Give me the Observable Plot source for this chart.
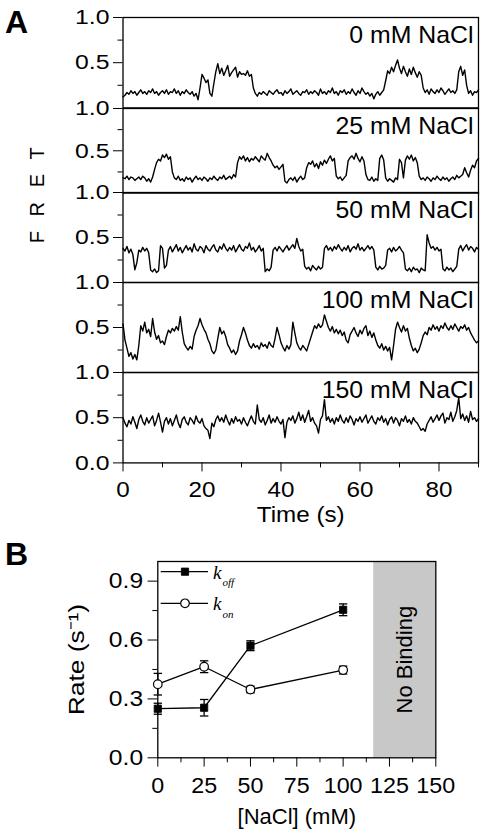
<!DOCTYPE html>
<html>
<head>
<meta charset="utf-8">
<script src="https://cdn.jsdelivr.net/npm/d3@7"></script>
<script src="https://cdn.jsdelivr.net/npm/@observablehq/plot@0.6"></script>
<style>
html, body { margin: 0; padding: 0; background: #fff; }
#fig { position: relative; width: 485px; height: 834px; overflow: hidden; font-family: "Liberation Sans", Arial, sans-serif; }
#fig svg { position: absolute; left: 0; }
</style>
</head>
<body>
<div id="fig"></div>
<script>
// ---------- Panel A data: smFRET traces (FRET x100), sampled every 0.5 s ----------
const timeStep = 0.5;
const timeDomain = [0, 90];
const conditions = ["0 mM NaCl", "25 mM NaCl", "50 mM NaCl", "100 mM NaCl", "150 mM NaCl"];

const fret0 = [
  12,14,17,15,19,16,18,14,17,20,16,18,15,19,17,21,16,18,14,17,19,16,20,15,18,17,21,16,19,14,18,16,20,17,15,18,13,16,
  9,22,37,33,28,31,16,13,27,40,
  49,38,44,36,41,47,35,39,42,45,34,40,37,38,36,41,35,37,
  22,16,13,17,15,18,16,14,19,17,15,18,20,16,17,14,19,16,18,21,15,17,19,16,14,18,17,20,15,18,
  16,19,17,14,21,16,18,15,19,17,22,16,18,14,19,17,20,15,18,16,21,17,14,19,16,22,18,15,17,13,
  16,10,15,18,14,17,20,
  30,41,38,45,40,47,53,44,38,46,40,35,43,37,45,39,34,40,36,
  22,17,20,15,21,18,16,20,17,22,19,15,18,21,17,19,16,20,
  40,46,36,42,25,
  16,19,14,18,17,20
];
const fret25 = [
  18,17,20,16,19,18,15,17,19,16,20,18,14,17,13,19,
  28,36,40,38,45,42,46,40,43,
  25,18,16,20,15,17,14,19,16,18,13,17,20,16,18,15,19,17,14,18,16,20,17,15,19,17,21,16,18,20,17,22,19,
  36,43,40,44,38,42,37,41,39,43,40,37,44,41,39,47,42,38,33,30,32,28,31,34,
  14,12,16,18,15,19,13,17,20,16,18,
  30,36,34,38,31,35,29,37,33,39,35,40,44,38,41,
  20,17,19,15,18,21,
  38,42,44,40,47,41,37,43,38,
  22,16,15,19,14,17,15,
  41,45,39,
  18,14,17,15,13,18,16,
  40,36,
  18,
  39,44,40,45,38,42,36,
  20,16,18,15,19,17,14,18,16,20,17,15,19,16,18,14,17,19,16,21,18,20,
  22,30,24,19,27,33,30,38,41
];
const fret50 = [
  38,35,40,33,37,31,
  14,22,
  36,34,39,35,38,33,
  14,12,15,11,13,
  41,38,
  16,19,
  36,40,34,38,42,35,39,33,37,41,36,39,34,43,37,35,40,38,33,41,37,35,39,42,36,34,40,37,43,38,
  35,39,36,41,34,38,42,37,35,40,38,44,36,39,34,37,41,35,38,
  12,15,13,17,
  36,39,35,40,37,34,38,41,36,39,42,38,49,40,35,37,
  18,15,17,13,19,16,14,18,15,17,
  38,41,36,39,35,40,37,42,38,35,39,36,41,34,38,40,37,43,36,39,35,38,41,37,40,36,
  17,14,18,15,16,19,
  36,38,34,39,35,37,40,36,33,
  15,13,16,12,17,14,15,11,16,14,13,
  53,44,38,40,36,39,35,37,
  15,13,17,14,16,12,15,18,
  37,41,35,39,42,36,40,38,34,39,37
];
const fret100 = [
  54,36,27,18,22,15,20,14,30,52,
  46,56,44,48,40,60,45,37,41,33,
  35,31,40,47,44,49,46,51,47,62,
  45,32,28,25,29,26,40,47,52,60,
  53,48,44,37,32,24,21,25,38,50,
  43,46,40,31,27,22,25,20,24,35,
  42,50,44,36,30,27,32,28,30,26,
  33,29,31,27,34,30,28,38,50,42,
  33,28,24,30,26,31,56,44,33,28,
  25,30,27,24,31,38,45,52,49,54,
  50,53,64,57,50,46,51,44,48,43,
  47,41,45,36,33,42,46,50,44,40,
  47,43,49,52,41,46,39,44,36,30,
  27,32,25,29,24,28,14,30,48,56,
  50,45,52,46,49,38,30,24,27,22,
  26,33,41,45,42,50,47,53,48,51,
  46,52,49,55,50,47,52,48,54,50,
  46,51,49,53,47,50,44,40,36,33,
  35
];
const fret150 = [
  50,44,40,47,43,51,45,38,48,53,
  46,42,50,44,48,52,41,47,55,45,
  34,46,50,43,49,41,47,53,44,39,
  48,51,45,42,50,47,43,52,46,44,
  49,41,38,36,27,44,40,48,52,46,
  50,45,53,47,42,49,44,51,46,48,
  43,50,45,41,47,52,46,43,64,48,
  45,50,42,47,53,44,49,45,51,46,
  43,48,28,45,50,47,52,44,49,56,
  47,53,45,51,58,46,50,44,41,33,
  48,52,70,47,51,45,49,43,50,46,
  53,47,44,50,45,52,48,42,49,46,
  51,45,49,53,44,48,52,46,43,50,
  47,52,45,49,42,48,51,44,50,47,
  41,49,46,52,45,48,43,50,46,44,
  40,36,38,35,43,47,51,45,49,53,
  47,52,55,44,50,48,56,46,51,58,
  72,49,54,47,52,45,57,48,50,46,
  49
];
const traces = [fret0, fret25, fret50, fret100, fret150];
const timeTicks = [0, 20, 40, 60, 80];
const timeMinorTicks = [10, 30, 50, 70, 90];
const fretTicks = [0.5, 1.0];
const fretMinorTicks = [0.25, 0.75];

// ---------- Panel B data: rates vs [NaCl] ----------
const nacl = [0, 25, 50, 100];
const kOff = [0.25, 0.255, 0.571, 0.754];
const kOffErr = [0.028, 0.042, 0.025, 0.03];
const kOn = [0.375, 0.464, 0.348, 0.447];
const kOnErr = [0.055, 0.03, 0.017, 0.02];
const naclTicks = [0, 25, 50, 75, 100, 125, 150];
const naclMinorTicks = [12.5, 37.5, 62.5, 87.5, 112.5, 137.5];
const rateTicks = [0, 0.3, 0.6, 0.9];
const rateMinorTicks = [0.15, 0.45, 0.75];
const noBindingRange = [116.5, 150];
const seriesLegend = [
  {name: "k", sub: "off", symbol: "square", fill: "black"},
  {name: "k", sub: "on", symbol: "circle", fill: "white"}
];

// ---------- layout ----------
const FONT = '"Liberation Sans", Arial, sans-serif';
const fig = document.getElementById("fig");
const panelEdges = [17.3, 107.7, 192.3, 282.3, 372.3, 462.7];
const frameLeft = 122.5, frameRight = 478;

function stretchText(svg, selector, k) {
  svg.querySelectorAll(selector).forEach(t => {
    const tr = t.getAttribute("transform");
    if (tr) t.setAttribute("transform", tr + ` scale(${k},1)`);
  });
}

traces.forEach((trace, i) => {
  const isLast = i === traces.length - 1;
  const top = panelEdges[i], bottom = panelEdges[i + 1];
  const mt = 12, mb = isLast ? 72 : 12;
  const h = bottom - top;
  const rows = trace.map((v, j) => ({t: j * timeStep, fret: v / 100}));
  const marks = [
    Plot.lineY(rows, {x: "t", y: "fret", stroke: "black", strokeWidth: 1.4}),
    Plot.frame({stroke: "black", strokeWidth: 1.3}),
    Plot.axisY({ticks: isLast ? [0, ...fretTicks] : fretTicks, tickSize: 9.5, tickPadding: 4,
      tickFormat: d3.format(".1f"), fontSize: 21, label: null}),
    Plot.axisY({ticks: fretMinorTicks, tickSize: 5, tickFormat: () => "", label: null}),
    Plot.text([conditions[i]], {text: d => d, frameAnchor: "top-right", textAnchor: "end",
      lineAnchor: "top", dx: -5, dy: 9.5, fontSize: 23, fill: "black"})
  ];
  if (isLast) {
    marks.push(
      Plot.axisX({ticks: timeTicks, tickSize: 9, tickPadding: 9, fontSize: 22,
        label: "Time (s)", labelAnchor: "center", labelOffset: 59, labelArrow: "none"}),
      Plot.axisX({ticks: timeMinorTicks, tickSize: 5, tickFormat: () => "", label: null})
    );
  }
  const p = Plot.plot({
    width: 485, height: h + mt + mb,
    marginLeft: frameLeft, marginRight: 485 - frameRight, marginTop: mt, marginBottom: mb,
    style: {background: "transparent", overflow: "visible", fontFamily: FONT, color: "black"},
    x: isLast ? {domain: timeDomain} : {domain: timeDomain, axis: null},
    y: {domain: [0, 1], axis: null},
    marks
  });
  stretchText(p, '[aria-label="y-axis tick label"] text', 1.18);
  stretchText(p, '[aria-label="x-axis tick label"] text, [aria-label="x-axis label"] text', 1.1);
  stretchText(p, 'g[aria-label="text"] text', 1.08);
  p.style.top = (top - mt) + "px";
  fig.appendChild(p);
});

// ---------- Panel B ----------
const rates = nacl.map((c, i) => ({nacl: c, kOff: kOff[i], kOffErr: kOffErr[i], kOn: kOn[i], kOnErr: kOnErr[i]}));
const capSymbol = {draw(ctx) { ctx.moveTo(-4.2, 0); ctx.lineTo(4.2, 0); }};
const bTop = 520, bFrameTop = 561, bFrameBottom = 757.3, bHeight = 314;
const pb = Plot.plot({
  width: 485, height: bHeight,
  marginLeft: 157.3, marginRight: 485 - 435.3,
  marginTop: bFrameTop - bTop, marginBottom: bTop + bHeight - bFrameBottom,
  style: {background: "transparent", overflow: "visible", fontFamily: FONT, color: "black"},
  x: {domain: [0, 150]},
  y: {domain: [0, 1]},
  marks: [
    Plot.rect([noBindingRange], {x1: d => d[0], x2: d => d[1], fill: "#c8c8c8"}),
    Plot.text(["No Binding"], {text: d => d, x: () => (noBindingRange[0] + noBindingRange[1]) / 2,
      frameAnchor: "middle", rotate: -90, fontSize: 22, fill: "black"}),
    Plot.frame({stroke: "black", strokeWidth: 1.3}),
    Plot.line(rates, {x: "nacl", y: "kOff", stroke: "black", strokeWidth: 1.3}),
    Plot.line(rates, {x: "nacl", y: "kOn", stroke: "black", strokeWidth: 1.3}),
    Plot.ruleX(rates, {x: "nacl", y1: d => d.kOff - d.kOffErr, y2: d => d.kOff + d.kOffErr, stroke: "black", strokeWidth: 1.3}),
    Plot.ruleX(rates, {x: "nacl", y1: d => d.kOn - d.kOnErr, y2: d => d.kOn + d.kOnErr, stroke: "black", strokeWidth: 1.3}),
    Plot.dot(rates, {x: "nacl", y: d => d.kOff - d.kOffErr, symbol: capSymbol, stroke: "black", strokeWidth: 1.3, fill: "none"}),
    Plot.dot(rates, {x: "nacl", y: d => d.kOff + d.kOffErr, symbol: capSymbol, stroke: "black", strokeWidth: 1.3, fill: "none"}),
    Plot.dot(rates, {x: "nacl", y: d => d.kOn - d.kOnErr, symbol: capSymbol, stroke: "black", strokeWidth: 1.3, fill: "none"}),
    Plot.dot(rates, {x: "nacl", y: d => d.kOn + d.kOnErr, symbol: capSymbol, stroke: "black", strokeWidth: 1.3, fill: "none"}),
    Plot.dot(rates, {x: "nacl", y: "kOn", symbol: "circle", r: 4.3, fill: "white", stroke: "black", strokeWidth: 1.2}),
    Plot.dot(rates, {x: "nacl", y: "kOff", symbol: "square", r: 4.1, fill: "black", stroke: "black", strokeWidth: 0.8}),
    Plot.axisY({ticks: rateTicks, tickSize: 9.7, tickPadding: 5, fontSize: 22, tickFormat: d3.format(".1f"),
      label: "Rate (s\u207B\u00B9)", labelAnchor: "center", labelOffset: 89, labelArrow: "none"}),
    Plot.axisY({ticks: rateMinorTicks, tickSize: 5, tickFormat: () => "", label: null}),
    Plot.axisX({ticks: naclTicks, tickSize: 9.3, tickPadding: 10, fontSize: 22,
      label: "[NaCl] (mM)", labelAnchor: "center", labelOffset: 66, labelArrow: "none"}),
    Plot.axisX({ticks: naclMinorTicks, tickSize: 5, tickFormat: () => "", label: null})
  ]
});
stretchText(pb, '[aria-label="y-axis tick label"] text', 1.12);
stretchText(pb, '[aria-label="x-axis tick label"] text', 1.06);
stretchText(pb, '[aria-label="y-axis label"] text', 1.2);
pb.style.top = bTop + "px";
fig.appendChild(pb);

// ---------- overlay: panel letters, FRET label, legend ----------
const ov = d3.create("svg").attr("width", 485).attr("height", 834)
  .style("top", "0px").style("font-family", FONT);
ov.append("text").attr("x", 5).attr("y", 33.3).attr("font-size", 32).attr("font-weight", "bold").text("A");
ov.append("text").attr("x", 5).attr("y", 565).attr("font-size", 32).attr("font-weight", "bold").text("B");
ov.append("text").attr("transform", "translate(44,193) rotate(-90)").attr("text-anchor", "middle")
  .attr("font-size", 20).style("letter-spacing", "4.6px").text("F R E T");
const legend = ov.append("g");
seriesLegend.forEach((s, i) => {
  const y = 571.7 + i * 31.6;
  legend.append("line").attr("x1", 160.7).attr("x2", 208).attr("y1", y).attr("y2", y)
    .attr("stroke", "black").attr("stroke-width", 1.3);
  legend.append("path").attr("transform", `translate(185,${y})`)
    .attr("d", d3.symbol(s.symbol === "square" ? d3.symbolSquare : d3.symbolCircle, s.symbol === "square" ? 53 : 58)())
    .attr("fill", s.fill).attr("stroke", "black").attr("stroke-width", s.symbol === "square" ? 0.8 : 1.2);
  const t = legend.append("text").attr("x", 213).attr("y", y + 7).attr("font-family", '"Liberation Serif", "Times New Roman", serif')
    .attr("font-style", "italic").attr("font-size", 19);
  t.append("tspan").text(s.name);
  t.append("tspan").attr("font-size", 11).attr("dy", 7.5).attr("dx", 1).text(s.sub);
});
fig.appendChild(ov.node());
</script>
</body>
</html>
